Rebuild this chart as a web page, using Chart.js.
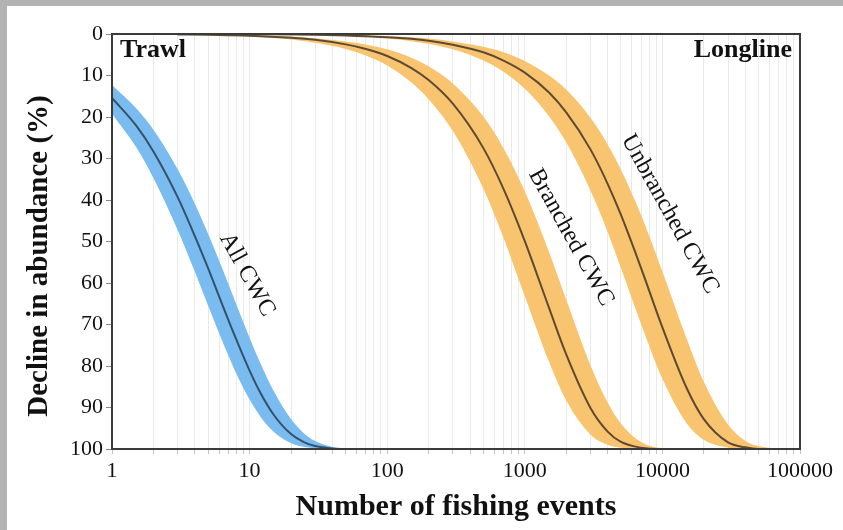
<!DOCTYPE html>
<html>
<head>
<meta charset="utf-8">
<script src="https://cdn.jsdelivr.net/npm/chart.js@4/dist/chart.umd.min.js"></script>
<style>
  html, body { margin: 0; padding: 0; background: #b3b3b3; width: 843px; height: 530px; overflow: hidden; }
  #wrap { position: absolute; left: 7px; top: 6px; width: 836px; height: 524px; background: #ffffff; }
  canvas { display: block; }
</style>
</head>
<body>
<div id="wrap"><canvas id="c" width="836" height="524"></canvas></div>
<script>
// ---- data ----
const decades = [1, 10, 100, 1000, 10000, 100000];
const yTicks = [0, 10, 20, 30, 40, 50, 60, 70, 80, 90, 100];

// All CWC (trawl)
const allX   = [1, 1.5, 2, 3, 4, 5, 6, 7, 8, 10, 12, 15, 20, 25, 30, 40, 50, 60];
const allMid = [15.4, 22.1, 28.3, 39.3, 48.7, 56.5, 63.2, 68.9, 73.6, 81.1, 86.5, 91.8, 96.4, 98.4, 99.3, 99.9, 100, 100];
const allHi  = [19.2, 27.3, 34.7, 47.2, 57.3, 65.5, 72.1, 77.4, 81.8, 88.1, 92.2, 95.9, 98.6, 99.5, 99.8, 100, 100, 100];
const allLo  = [12.3, 17.9, 23.1, 32.6, 40.9, 48.2, 54.6, 60.2, 65.1, 73.2, 79.4, 86.1, 92.8, 96.3, 98.1, 99.5, 99.9, 100];

// Branched CWC (longline)
const brX   = [3, 5, 10, 20, 30, 50, 70, 100, 150, 200, 300, 500, 700, 1000, 1500, 2000, 3000, 4000, 5000, 7000, 10000, 15000, 20000];
const brMid = [0.1, 0.2, 0.4, 0.9, 1.4, 2.5, 3.6, 5.3, 8.2, 11.1, 16.8, 27.5, 37.3, 49.9, 66.0, 77.2, 90.1, 95.8, 98.3, 99.7, 100, 100, 100];
const brHi  = [0.15, 0.3, 0.6, 1.3, 2.1, 3.6, 5.2, 7.6, 11.7, 15.7, 23.4, 37.3, 49.1, 63.2, 79.0, 88.3, 96.5, 99.0, 99.7, 100, 100, 100, 100];
const brLo  = [0.05, 0.15, 0.3, 0.6, 1.0, 1.8, 2.5, 3.7, 5.7, 7.8, 11.9, 19.9, 27.5, 37.9, 52.5, 64.0, 79.8, 88.8, 93.9, 98.3, 99.8, 100, 100];

// Unbranched CWC (longline)
const unX   = [10, 30, 100, 200, 300, 500, 700, 1000, 1500, 2000, 3000, 4000, 5000, 7000, 10000, 15000, 20000, 30000, 40000, 50000, 70000, 100000];
const unMid = [0.05, 0.2, 0.8, 1.6, 2.6, 4.4, 6.4, 9.3, 14.1, 18.9, 27.8, 36.1, 43.6, 56.4, 70.7, 85.3, 92.8, 98.4, 99.6, 100, 100, 100];
const unHi  = [0.1, 0.3, 1.1, 2.4, 3.7, 6.4, 9.1, 13.2, 19.8, 26.1, 37.7, 47.7, 56.4, 69.9, 83.1, 93.8, 97.8, 99.7, 100, 100, 100, 100];
const unLo  = [0.03, 0.1, 0.5, 1.1, 1.8, 3.1, 4.4, 6.5, 10.0, 13.4, 20.2, 26.6, 32.7, 43.6, 57.2, 73.4, 83.8, 94.1, 98.0, 99.3, 99.9, 100];

const curveLabels = [
  { text: 'All CWC',        x: 9.6,   y: 58 },
  { text: 'Branched CWC',   x: 2170,  y: 49 },
  { text: 'Unbranched CWC', x: 11350, y: 43.4 }
];

// ---- styling ----
const BLUE_BAND = '#7abcf0', BLUE_LINE = '#35516a';
const ORANGE_BAND = '#f8c46f', ORANGE_LINE = '#5e4a32';
const SERIF = '"Liberation Serif", "DejaVu Serif", serif';

const pts = (xs, ys) => xs.map((x, i) => ({ x: x, y: ys[i] }));
const common = { pointRadius: 0, tension: 0.4, cubicInterpolationMode: 'monotone' };

function band(xs, hi, lo, color) {
  return [
    Object.assign({ data: pts(xs, hi), borderWidth: 0, borderColor: color, backgroundColor: color, fill: '+1' }, common),
    Object.assign({ data: pts(xs, lo), borderWidth: 0, borderColor: color, backgroundColor: color, fill: false }, common)
  ];
}
function mid(xs, ys, color) {
  return Object.assign({ data: pts(xs, ys), borderWidth: 2, borderColor: color, fill: false }, common);
}

const minorTicks = [];
decades.forEach((d, i) => {
  if (i === decades.length - 1) { minorTicks.push(d); return; }
  for (let k = 1; k <= 9; k++) minorTicks.push(d * k);
});

const overlay = {
  id: 'overlay',
  afterDraw(chart) {
    const ctx = chart.ctx, a = chart.chartArea;
    const xs = chart.scales.x, ys = chart.scales.y;
    ctx.save();
    // frame
    ctx.strokeStyle = '#3a3a3a';
    ctx.lineWidth = 2;
    ctx.strokeRect(a.left, a.top, a.right - a.left, a.bottom - a.top);
    // corner texts
    ctx.fillStyle = '#111';
    ctx.font = 'bold 26px ' + SERIF;
    ctx.textBaseline = 'middle';
    ctx.textAlign = 'left';
    ctx.fillText('Trawl', a.left + 8, a.top + 16);
    ctx.textAlign = 'right';
    ctx.fillText('Longline', a.right - 8, a.top + 16);
    // curve labels
    ctx.font = '24px ' + SERIF;
    ctx.textAlign = 'center';
    curveLabels.forEach(l => {
      ctx.save();
      ctx.translate(xs.getPixelForValue(l.x), ys.getPixelForValue(l.y));
      ctx.rotate(61 * Math.PI / 180);
      ctx.fillText(l.text, 0, 0);
      ctx.restore();
    });
    // axis titles
    ctx.font = 'bold 30px ' + SERIF;
    ctx.textAlign = 'center';
    ctx.fillText('Number of fishing events', (a.left + a.right) / 2, 501);
    ctx.font = 'bold 29px ' + SERIF;
    ctx.save();
    ctx.translate(33, 250);
    ctx.rotate(-Math.PI / 2);
    ctx.fillText('Decline in abundance (%)', 0, 0);
    ctx.restore();
    ctx.restore();
  }
};

new Chart(document.getElementById('c'), {
  type: 'line',
  data: {
    datasets: [
      mid(allX, allMid, BLUE_LINE),
      mid(brX, brMid, ORANGE_LINE),
      mid(unX, unMid, ORANGE_LINE),
      ...band(allX, allHi, allLo, BLUE_BAND),
      ...band(brX, brHi, brLo, ORANGE_BAND),
      ...band(unX, unHi, unLo, ORANGE_BAND)
    ]
  },
  options: {
    responsive: false,
    animation: false,
    layout: { padding: { left: 0, top: 28, right: 43, bottom: 0 } },
    plugins: { legend: { display: false }, tooltip: { enabled: false } },
    scales: {
      x: {
        type: 'logarithmic',
        min: 1, max: 100000,
        afterBuildTicks: s => { s.ticks = minorTicks.map(v => ({ value: v, major: decades.includes(v) })); },
        afterFit: s => { s.height = 81; },
        ticks: {
          autoSkip: false, maxRotation: 0, padding: 4,
          color: '#111', font: { family: SERIF, size: 22 },
          callback: v => decades.includes(v) ? String(v) : ''
        },
        grid: { color: '#e9e9e9', lineWidth: 1, tickColor: '#c4c4c4', tickLength: 5 },
        border: { display: false }
      },
      y: {
        type: 'linear',
        reverse: true,
        min: 0, max: 100,
        afterBuildTicks: s => { s.ticks = yTicks.map(v => ({ value: v })); },
        afterFit: s => { s.width = 105; },
        ticks: { padding: 3, color: '#111', font: { family: SERIF, size: 22 } },
        grid: { drawOnChartArea: false, tickColor: '#888', tickLength: 6 },
        border: { display: false }
      }
    }
  },
  plugins: [overlay]
});
</script>
</body>
</html>
